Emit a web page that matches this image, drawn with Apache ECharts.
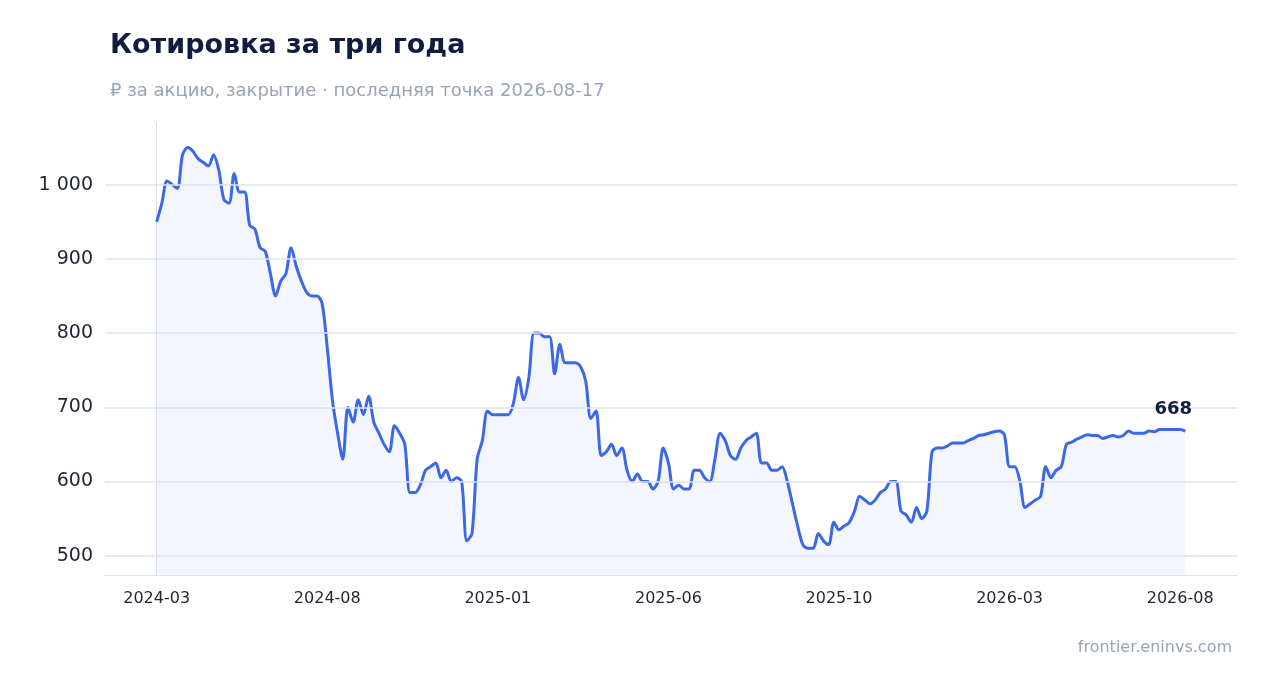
<!DOCTYPE html>
<html><head><meta charset="utf-8">
<script src="https://cdn.jsdelivr.net/npm/echarts@6/dist/echarts.min.js"></script>
<style>html,body{margin:0;padding:0;background:#fff}#c{width:1267px;height:693px}</style>
</head><body><div id="c"></div>
<script>
const prices = [950,975,1005,1000,995,1040,1050,1045,1035,1030,1025,1040,1020,980,975,1015,990,990,945,940,
915,910,880,850,870,880,915,890,870,855,850,850,840,780,710,665,630,700,680,710,
690,715,680,665,650,640,675,665,650,585,585,595,615,620,625,605,615,600,605,600,
520,530,630,655,695,690,690,690,690,705,740,710,740,800,800,795,795,745,785,760,
760,760,755,735,685,695,635,640,650,635,645,615,600,610,600,600,590,600,645,625,
590,595,590,590,615,615,605,600,630,665,655,635,630,645,655,660,665,625,625,615,
615,620,600,570,540,515,510,510,530,520,515,545,535,540,545,560,580,575,570,575,
585,590,600,600,560,555,545,565,550,560,640,645,645,648,652,652,652,655,658,662,
663,665,667,668,663,620,620,600,565,570,575,580,620,605,615,620,650,653,657,660,
663,662,662,658,660,662,660,662,668,665,665,665,668,667,670,670,670,670,670,668];
const tickIdx = [0,33,66,99,132,165,198];
const tickLabels = ['2024-03','2024-08','2025-01','2025-06','2025-10','2026-03','2026-08'];
const yTicks = [500,600,700,800,900,1000];
const title = 'Котировка за три года';
const subtitle = '₽ за акцию, закрытие · последняя точка 2026-08-17';

const data = prices.map((v,i)=>[i,v]);
const last = data.length-1;
const chart = echarts.init(document.getElementById('c'));
chart.setOption({
  animation:false,
  textStyle:{fontFamily:'DejaVu Sans'},
  title:[
    {text:title,left:105,top:27,textStyle:{fontSize:27,fontWeight:'bold',color:'#0f1d40'}},
    {text:subtitle,left:105,top:77,textStyle:{fontSize:18,fontWeight:'normal',color:'#97a3b6'}},
    {text:'frontier.eninvs.com',right:30,bottom:32,textStyle:{fontSize:16,fontWeight:'normal',color:'#97a3b6'}}
  ],
  grid:{left:105,right:30,top:123,bottom:118},
  xAxis:{type:'value',min:-10,max:209,
    axisLine:{show:true,lineStyle:{color:'#dde2ea'}},
    axisTick:{show:false},splitLine:{show:false},
    axisLabel:{customValues:tickIdx,formatter:v=>tickLabels[tickIdx.indexOf(v)]||'',
      color:'#1f2533',fontSize:16,margin:16}},
  yAxis:{type:'value',min:474,max:1083,
    axisLine:{show:true,lineStyle:{color:'#dde2ea'}},
    axisTick:{show:false},splitLine:{show:false},
    axisLabel:{customValues:yTicks,formatter:v=>v>=1000?String(v).replace(/\B(?=(\d{3})+$)/g,' '):String(v),
      color:'#1f2533',fontSize:19,margin:12}},
  series:[{type:'line',data:data,symbol:'none',smooth:0.3,
    lineStyle:{color:'#3a68e8',width:3},
    areaStyle:{color:'rgba(58,104,232,0.09)'},
    markLine:{silent:true,symbol:'none',label:{show:false},
      lineStyle:{color:'#dde2ee',type:'solid',width:1.5},
      data:yTicks.map(v=>({yAxis:v}))},
    markPoint:{symbol:'circle',symbolSize:1,itemStyle:{color:'transparent'},
      label:{show:true,position:'top',distance:12,offset:[-12,0],formatter:String(prices[last]),
        fontSize:18,fontWeight:'bold',color:'#0f1d40'},
      data:[{coord:[last,prices[last]]}]}
  }]
});
</script></body></html>
